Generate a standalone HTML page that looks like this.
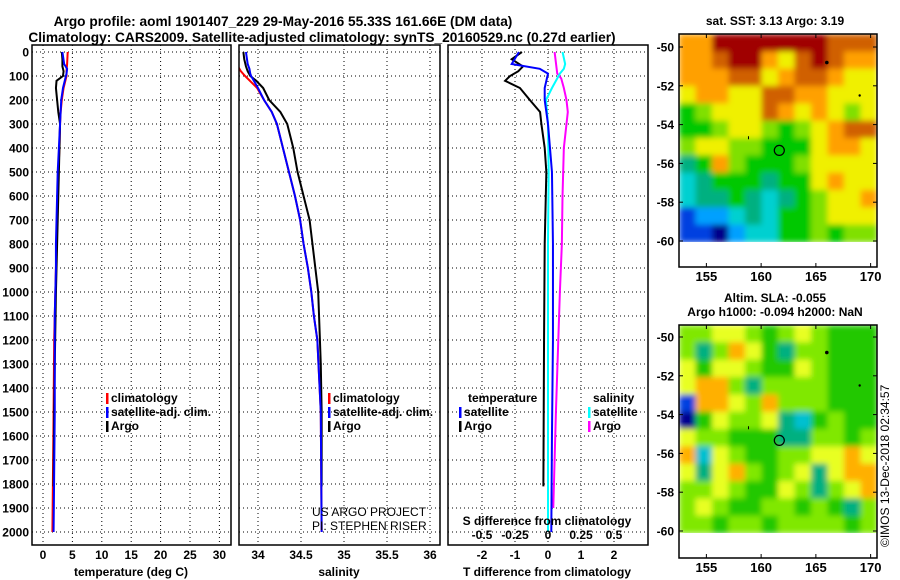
<!DOCTYPE html>
<html><head><meta charset="utf-8"><style>
body{margin:0;background:#fff}
svg{display:block;font-family:"Liberation Sans",sans-serif;font-weight:bold}
</style></head><body>
<svg id="c" width="900" height="580" viewBox="0 0 900 580" xmlns="http://www.w3.org/2000/svg">
<defs>
<filter id="bl" x="0" y="0" width="1" height="1"><feGaussianBlur stdDeviation="3" edgeMode="duplicate"/></filter>
<clipPath id="mc0"><rect x="679" y="34" width="198" height="208"/></clipPath>
<clipPath id="mc1"><rect x="679" y="325" width="198" height="208"/></clipPath>
</defs>
<text x="283" y="26" font-size="13.7" text-anchor="middle">Argo profile: aoml 1901407_229 29-May-2016 55.33S 161.66E (DM data)</text>
<text x="322" y="42" font-size="13.7" text-anchor="middle">Climatology: CARS2009. Satellite-adjusted climatology: synTS_20160529.nc (0.27d earlier)</text>
<text x="775" y="25" font-size="12" text-anchor="middle">sat. SST: 3.13 Argo: 3.19</text>
<text x="775" y="302" font-size="12" text-anchor="middle">Altim. SLA: -0.055</text>
<text x="775" y="316" font-size="12" text-anchor="middle">Argo h1000: -0.094 h2000: NaN</text>
<text transform="translate(889,547) rotate(-90)" font-size="12" font-weight="normal">©IMOS 13-Dec-2018 02:34:57</text>
<g id="g"></g>
</svg>
<script>
// ---------- data ----------
const depthTicks=[0,100,200,300,400,500,600,700,800,900,1000,1100,1200,1300,1400,1500,1600,1700,1800,1900,2000];
const tempTicks=[0,5,10,15,20,25,30];
const salTicks=[34,34.5,35,35.5,36];
const salTickLabels=["34","34.5","35","35.5","36"];
const tdTicks=[-2,-1,0,1,2];
const sdTicks=[-0.5,-0.25,0,0.25,0.5];
const sdTickLabels=["-0.5","-0.25","0","0.25","0.5"];

const argoDepth=[0,30,60,80,100,120,150,200,250,300,400,500,700,1000,1300,1500,1810];
const argoTemp=[3.2,3.3,3.3,3.5,3.4,2.3,2.2,2.4,2.6,2.9,2.8,2.7,2.5,2.2,2.0,1.9,1.8];
const argoSal=[33.83,33.84,33.86,33.88,33.91,33.98,34.06,34.13,34.26,34.34,34.41,34.46,34.6,34.7,34.73,34.74,34.74];
const climDepth=[0,50,80,100,150,200,250,300,400,500,600,700,800,900,1000,1100,1200,1500,2000];
const climTemp=[4.2,4.1,4.0,4.0,3.5,3.2,3.0,2.9,2.8,2.6,2.5,2.4,2.3,2.2,2.1,2.0,1.9,1.8,1.6];
const climSal=[33.7,33.75,33.8,33.85,33.99,34.07,34.16,34.22,34.29,34.36,34.43,34.49,34.53,34.58,34.62,34.65,34.69,34.73,34.74];
const satDepth=[0,50,70,90,100,150,200,250,300,400,500,600,700,800,900,1000,1100,1200,1500,2000];
const satTemp=[3.3,3.6,4.1,4.0,3.9,3.4,3.1,3.0,2.9,2.7,2.5,2.4,2.3,2.2,2.2,2.1,2.0,2.0,2.0,1.8];
const satSal=[33.86,33.88,33.9,33.91,33.92,34.0,34.07,34.16,34.22,34.29,34.36,34.43,34.49,34.53,34.58,34.62,34.65,34.69,34.73,34.74];

const dDepth=[0,30,60,80,100,120,150,200,250,300,400,500,800,1200,1500,1810];
const dTempArgo=[-0.79,-1.1,-0.76,-0.9,-1.15,-1.3,-0.85,-0.55,-0.24,-0.2,-0.1,-0.05,-0.1,-0.12,-0.13,-0.14];
const sDepth=[0,50,70,90,150,200,300,500,800,1200,1600,2000];
const dTempSat=[-0.88,-1.1,-0.25,0,-0.1,-0.1,0,0.12,0.15,0.15,0.12,0.1];
const dSalSat=[0.11,0.13,0.12,0.09,0.03,-0.015,0,0.005,0.0,0.0,0.0,0.0];
const mDepth=[0,90,110,150,200,250,300,400,600,800,1000,1500,1900];
const dSalArgo=[0.05,0.07,0.1,0.12,0.14,0.15,0.14,0.12,0.11,0.105,0.09,0.06,0.04];

const latTicks=[-50,-52,-54,-56,-58,-60];
const lonTicks=[155,160,165,170];
const sstGrid=[
[8,8,10,10,10,10,10,10,10,9,9,9],
[8,8,9,10,10,8,7,9,10,9,8,8],
[8,8,8,9,9,7,8,9,9,8,7,7],
[7,8,8,7,7,9,9,8,8,7,7,7],
[5,6,7,7,7,9,8,7,8,7,6,7],
[5,5,6,7,7,6,5,6,7,8,9,9],
[6,7,7,6,6,5,5,5,7,8,8,7],
[4,5,8,6,5,5,5,6,7,7,7,7],
[3,4,5,5,5,4,5,5,7,8,7,7],
[3,4,4,5,4,3,4,5,6,7,7,8],
[1,2,2,3,4,3,5,5,6,7,7,7],
[1,1,0,2,3,3,5,5,6,5,6,6]];
const slaGrid=[
[6,6,7,7,6,5,6,7,6,5,5,5],
[6,4,6,8,7,5,4,6,6,5,5,5],
[7,5,7,7,6,5,5,7,6,5,5,5],
[7,8,8,6,4,6,6,6,6,5,5,5],
[1,8,8,7,6,8,6,6,6,5,5,5],
[0,5,7,6,6,7,4,3,5,6,5,5],
[7,6,6,5,5,5,4,4,6,6,5,6],
[8,3,7,6,5,5,6,6,7,7,8,7],
[7,4,7,8,6,5,6,7,4,7,8,8],
[6,6,7,6,5,5,7,6,4,6,7,8],
[6,7,6,5,5,6,6,5,6,5,4,6],
[6,6,5,6,6,5,6,6,6,6,5,6]];
const palette=["#00008a","#0040e0","#00a0ff","#00d0d0","#00b080","#00c800","#80e000","#f0f000","#ffa000","#d06000","#a00000"];
const slaPalette=["#000090","#0040e0","#00a0ff","#00c0d0","#00b080","#20c800","#80e800","#e8ff20","#ffb000","#ff8000","#c00000"];
const floatLon=161.66, floatLat=-55.33;

// ---------- drawing ----------
const NS="http://www.w3.org/2000/svg";
const G=document.getElementById('g');
function mk(t,a,p){const e=document.createElementNS(NS,t);for(const k in a)e.setAttribute(k,a[k]);(p||G).appendChild(e);return e;}
const yD=d=>52+d*0.24;
const xT=t=>43+t*5.88;
const xS=s=>258+(s-34)*86;
const xTD=t=>548+t*33;
const xSD=s=>548+s*132;
const panels=[[32,231],[239,440],[448,648]];

function panelFrame(i,vx,fx,name){
  const [x0,x1]=panels[i];
  const cl=mk('clipPath',{id:'cp'+i});mk('rect',{x:x0,y:45,width:x1-x0,height:500},cl);
  const grid=mk('g',{});
  
  
  depthTicks.forEach(d=>{mk('line',{x1:x0,x2:x1,y1:yD(d),y2:yD(d),stroke:'#000','stroke-dasharray':'1,3'},grid);});
  vx.forEach(v=>{mk('line',{x1:fx(v),x2:fx(v),y1:45,y2:545,stroke:'#000','stroke-dasharray':'1,3'},grid);});
  const g=mk('g',{'clip-path':'url(#cp'+i+')'});
  
  
  const r=mk('rect',{x:x0,y:45,width:x1-x0,height:500,fill:'none',stroke:'#000','stroke-width':1.5});
  
  
  return g;
}
function txt(x,y,s,opts,name){
  const e=mk('text',Object.assign({x:x,y:y,'font-size':12},opts||{}));
  e.textContent=s;
  
  
  return e;
}
let cur=null;
function line(xs,ds,fx,col,name){
  let pts=[];for(let i=0;i<xs.length;i++)pts.push(fx(xs[i])+','+yD(ds[i]));
  const e=mk('polyline',{points:pts.join(' '),fill:'none',stroke:col,'stroke-width':2},cur);
  
  
}
// panel 1 temperature
cur=panelFrame(0,tempTicks,xT,'temperature-panel');
line(climTemp,climDepth,xT,'#f00','temperature-climatology-line');
line(argoTemp,argoDepth,xT,'#000','temperature-argo-line');
line(satTemp,satDepth,xT,'#00f','temperature-satellite-line');
depthTicks.forEach(d=>txt(29,yD(d)+4.5,String(d),{'text-anchor':'end'},'depth-tick-label'));
tempTicks.forEach(t=>txt(xT(t),559,String(t),{'text-anchor':'middle'},'temperature-tick-label'));
txt(131,576,'temperature (deg C)',{'text-anchor':'middle'},'temperature-axis-title');
// panel 2 salinity
cur=panelFrame(1,salTicks,xS,'salinity-panel');
line(climSal,climDepth,xS,'#f00','salinity-climatology-line');
line(argoSal,argoDepth,xS,'#000','salinity-argo-line');
line(satSal,satDepth,xS,'#00f','salinity-satellite-line');
salTicks.forEach((t,i)=>txt(xS(t),559,salTickLabels[i],{'text-anchor':'middle'},'salinity-tick-label'));
txt(339,576,'salinity',{'text-anchor':'middle'},'salinity-axis-title');
txt(312,516,'US ARGO PROJECT',{'font-weight':'normal'},'project-credit');
txt(312,530,'PI: STEPHEN RISER',{'font-weight':'normal'},'pi-credit');
// panel 3 differences
cur=panelFrame(2,tdTicks,xTD,'difference-panel');
line(dTempArgo,dDepth,xTD,'#000','temp-diff-argo-line');
line(dSalArgo,mDepth,xSD,'#f0f','sal-diff-argo-line');
line(dSalSat,sDepth,xSD,'#0ff','sal-diff-satellite-line');
line(dTempSat,sDepth,xTD,'#00f','temp-diff-satellite-line');
tdTicks.forEach(t=>txt(xTD(t),559,String(t),{'text-anchor':'middle'},'t-diff-tick-label'));
sdTicks.forEach((t,i)=>txt(xSD(t),539,sdTickLabels[i],{'text-anchor':'middle'},'s-diff-tick-label'));
txt(547,525,'S difference from climatology',{'text-anchor':'middle'},'s-diff-axis-title');
txt(547,576,'T difference from climatology',{'text-anchor':'middle'},'t-diff-axis-title');
// legends
function leg(x,y,col,label,name){
  const r=mk('rect',{x:x,y:y-9,width:2.5,height:11,fill:col});
  
  
  txt(x+5,y,label,{},name);
}
leg(106,402,'#f00','climatology','legend-climatology');
leg(106,416,'#00f','satellite-adj. clim.','legend-satellite-adj');
leg(106,430,'#000','Argo','legend-argo');
leg(328,402,'#f00','climatology','legend-climatology-2');
leg(328,416,'#00f','satellite-adj. clim.','legend-satellite-adj-2');
leg(328,430,'#000','Argo','legend-argo-2');
txt(468,402,'temperature',{},'legend-temperature-header');
leg(459,416,'#00f','satellite','legend-temp-satellite');
leg(459,430,'#000','Argo','legend-temp-argo');
txt(593,402,'salinity',{},'legend-salinity-header');
leg(588,416,'#0ff','satellite','legend-sal-satellite');
leg(588,430,'#f0f','Argo','legend-sal-argo');

// maps
const lonX=l=>679+(l-152.5)*10.95;
function map(grid,pal,top,latY,name,idx){
  const cw=198/12, ch=208/12;
  const outer=mk('g',{'clip-path':'url(#mc'+idx+')'});
  const g=mk('g',{filter:'url(#bl)'},outer);
  
  
  for(let r=0;r<grid.length;r++)for(let c=0;c<grid[r].length;c++){
    const e=mk('rect',{x:679+c*cw,y:top+r*ch,width:cw+0.6,height:ch+0.6,fill:pal[grid[r][c]]},g);
    
    
  }
  const fr=mk('rect',{x:679,y:top,width:198,height:233,fill:'none',stroke:'#000','stroke-width':1.5});
  
  
  latTicks.forEach(l=>{const y=latY(l);
    mk('line',{x1:877,x2:873,y1:y,y2:y,stroke:'#000'});
    mk('line',{x1:679,x2:683,y1:y,y2:y,stroke:'#000'});
    txt(674,y+4.5,String(l),{'text-anchor':'end'},name+'-lat-label');});
  lonTicks.forEach(l=>{const x=lonX(l);mk('line',{x1:x,x2:x,y1:top,y2:top+4,stroke:'#000'});mk('line',{x1:x,x2:x,y1:top+233,y2:top+229,stroke:'#000'});txt(x,top+247,String(l),{'text-anchor':'middle','font-size':13},name+'-lon-label');});
  const c=mk('circle',{cx:lonX(floatLon),cy:latY(floatLat),r:5,fill:'none',stroke:'#000','stroke-width':1.2});
  
  
  mk('circle',{cx:lonX(166),cy:latY(-50.8),r:1.8,fill:'#000'});
  mk('circle',{cx:lonX(169),cy:latY(-52.5),r:1.2,fill:'#000'});
  mk('rect',{x:lonX(158.8),y:latY(-54.6),width:1,height:3,fill:'#000'});
}
map(sstGrid,palette,34,l=>47+(-50-l)*19.4,'sst-map',0);
map(slaGrid,slaPalette,325,l=>337+(-50-l)*19.4,'sla-map',1);
</script>
</body></html>
